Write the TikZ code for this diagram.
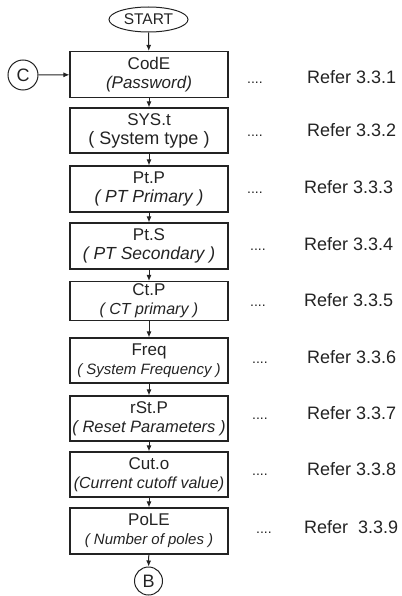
\documentclass[tikz,border=0pt]{standalone}
\usepackage{fontspec}
\setmainfont{Liberation Sans}
\usetikzlibrary{arrows.meta,shapes.geometric}
\definecolor{ink}{RGB}{35,35,35}
\begin{document}
\begin{tikzpicture}[x=1pt,y=-1pt,
  box/.style={draw=ink,text=ink,line width=1.1pt,minimum width=158pt,inner sep=0pt,align=center,
    font=\fontsize{17}{19}\selectfont},
  conn/.style={draw=ink,text=ink,line width=1pt,circle,minimum size=30pt,inner sep=0pt,
    font=\fontsize{18}{18}\selectfont},
  flow/.style={draw=ink,-{Latex[length=6pt,width=5pt]},line width=1pt},
  dotsnode/.style={anchor=base west,text=ink,inner sep=0pt,font=\fontsize{14}{14}\selectfont},
  refnode/.style={anchor=base west,text=ink,inner sep=0pt,font=\fontsize{18}{18}\selectfont}]
\useasboundingbox (0,0) rectangle (401,596);

\node[draw=ink,text=ink,line width=1pt,ellipse,minimum width=79pt,minimum height=25pt,inner sep=0pt,
  font=\fontsize{15.5}{16}\selectfont] (start) at (148.5,19.5) {START};

\node[box,minimum height=46pt] (code) at (149,74.5)
  {CodE\\{\fontsize{17}{19}\selectfont\itshape (Password)}};
\node[box,minimum height=45pt] (sys) at (149,130.5)
  {SYS.t\\{\fontsize{18}{19}\selectfont ( System type )}};
\node[box,minimum height=46pt] (ptp) at (149,189)
  {Pt.P\\{\fontsize{17.5}{19}\selectfont\itshape ( PT Primary )}};
\node[box,minimum height=46pt] (pts) at (149,246)
  {Pt.S\\{\fontsize{17.5}{19}\selectfont\itshape ( PT Secondary )}};
\node[box,minimum height=39pt] (ctp) at (149,301)
  {Ct.P\\{\fontsize{16}{19}\selectfont\itshape ( CT primary )}};
\node[box,minimum height=45pt] (freq) at (149,360.5)
  {Freq\\{\fontsize{15}{18}\selectfont\itshape ( System Frequency )}};
\node[box,minimum height=45pt] (rst) at (149,418.5)
  {rSt.P\\{\fontsize{16.5}{18}\selectfont\itshape ( Reset Parameters )}};
\node[box,minimum height=45pt] (cut) at (149,474.5)
  {Cut.o\\{\fontsize{16}{18}\selectfont\itshape (Current cutoff value)}};
\node[box,minimum height=46pt] (pole) at (149,531)
  {PoLE\\{\fontsize{15}{18}\selectfont\itshape ( Number of poles )}};

\node[conn] (c) at (23,75) {C};
\node[conn,minimum size=28pt] (b) at (148.5,581) {B};

\draw[flow] (start) -- (code);
\draw[flow] (c) -- (code);
\draw[flow] (code) -- (sys);
\draw[flow] (sys) -- (ptp);
\draw[flow] (ptp) -- (pts);
\draw[flow] (pts) -- (ctp);
\draw[flow] (ctp) -- (freq);
\draw[flow] (freq) -- (rst);
\draw[flow] (rst) -- (cut);
\draw[flow] (cut) -- (pole);
\draw[flow] (pole) -- (b);

\node[dotsnode] (d1) at (247,84) {....};
\node[refnode] (r1) at (307,84) {Refer 3.3.1};
\node[dotsnode] (d2) at (247,137) {....};
\node[refnode] (r2) at (307,137) {Refer 3.3.2};
\node[dotsnode] (d3) at (247,193) {....};
\node[refnode] (r3) at (304,193) {Refer 3.3.3};
\node[dotsnode] (d4) at (250,250) {....};
\node[refnode] (r4) at (304,250) {Refer 3.3.4};
\node[dotsnode] (d5) at (250,306) {....};
\node[refnode] (r5) at (304,306) {Refer 3.3.5};
\node[dotsnode] (d6) at (252,363) {....};
\node[refnode] (r6) at (307,363) {Refer 3.3.6};
\node[dotsnode] (d7) at (252,419) {....};
\node[refnode] (r7) at (307,419) {Refer 3.3.7};
\node[dotsnode] (d8) at (252,475) {....};
\node[refnode] (r8) at (307,475) {Refer 3.3.8};
\node[dotsnode] (d9) at (256,533) {....};
\node[refnode] (r9) at (304,533) {Refer\ \ 3.3.9};
\end{tikzpicture}
\end{document}
